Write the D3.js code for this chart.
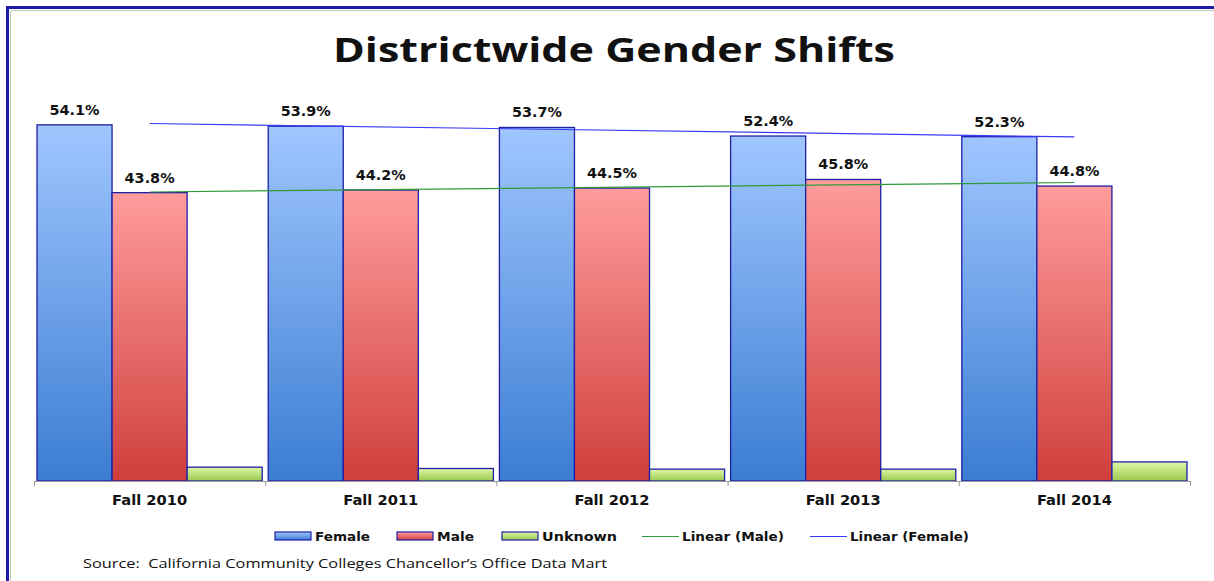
<!DOCTYPE html>
<html>
<head>
<meta charset="utf-8">
<script src="https://cdn.jsdelivr.net/npm/d3@7"></script>
<style>
  body { margin: 0; background: #fff; }
  text { font-family: "DejaVu Sans", Verdana, sans-serif; fill: #111; }
</style>
</head>
<body>
<svg id="chart" width="1214" height="581"></svg>
<script>
// values
const terms = ['Fall 2010', 'Fall 2011', 'Fall 2012', 'Fall 2013', 'Fall 2014'];
const female = [54.1, 53.9, 53.7, 52.4, 52.3];
const male = [43.8, 44.2, 44.5, 45.8, 44.8];
const unknown = [2.1, 1.9, 1.8, 1.8, 2.9];
const seriesNames = ['Female', 'Male', 'Unknown'];

const svg = d3.select('#chart');

// frame
svg.append('path')
    .attr('d', 'M7.5,581V7.5H1214')
    .attr('fill', 'none')
    .attr('stroke', '#1a1aa6')
    .attr('stroke-width', 3);
svg.append('path')
    .attr('d', 'M10.5,581V10.5H1214')
    .attr('fill', 'none')
    .attr('stroke', '#c4c4c4')
    .attr('stroke-width', 1);

// gradients
const defs = svg.append('defs');
const grads = {
    Female: ['#a0c6ff', '#3b7dd2'],
    Male: ['#ff9c9c', '#cf3f3c'],
    Unknown: ['#dff7a6', '#9ac94f']
};
Object.keys(grads).forEach(k => {
    const g = defs.append('linearGradient')
        .attr('id', 'g-' + k)
        .attr('x1', 0).attr('y1', 0).attr('x2', 0).attr('y2', 1);
    g.append('stop').attr('offset', '0%').attr('stop-color', grads[k][0]);
    g.append('stop').attr('offset', '100%').attr('stop-color', grads[k][1]);
});

const x = d3.scaleBand().domain(terms).range([34, 1190]);
const xs = d3.scaleBand().domain(seriesNames).range([0, x.bandwidth()]).paddingOuter(0.04);
const y = d3.scaleLinear().domain([0, 60]).range([481, 86]);

const rows = terms.map((t, i) => ({ term: t, Female: female[i], Male: male[i], Unknown: unknown[i] }));

// bars
const groups = svg.append('g').selectAll('g')
    .data(rows)
    .enter().append('g')
    .attr('transform', d => 'translate(' + x(d.term) + ',0)');

groups.selectAll('rect')
    .data(d => seriesNames.map(s => ({ key: s, value: d[s] })))
    .enter().append('rect')
    .attr('x', d => xs(d.key))
    .attr('y', d => y(d.value))
    .attr('width', xs.bandwidth())
    .attr('height', d => y(0) - y(d.value))
    .attr('fill', d => 'url(#g-' + d.key + ')')
    .attr('stroke', '#1f1fa8')
    .attr('stroke-width', 1.3);

// value labels for female and male
groups.selectAll('text.val')
    .data(d => ['Female', 'Male'].map(s => ({ key: s, value: d[s] })))
    .enter().append('text')
    .attr('class', 'val')
    .attr('x', d => xs(d.key) + xs.bandwidth() / 2)
    .attr('y', d => y(d.value) - 10)
    .attr('text-anchor', 'middle')
    .attr('font-size', 14)
    .attr('font-weight', 'bold')
    .attr('textLength', 50)
    .attr('lengthAdjust', 'spacingAndGlyphs')
    .text(d => d.value.toFixed(1) + '%');

// axis
const axis = svg.append('g');
axis.append('line')
    .attr('x1', 34).attr('x2', 1190)
    .attr('y1', y(0) + 0.5).attr('y2', y(0) + 0.5)
    .attr('stroke', '#9a9a9a');
axis.selectAll('line.tick')
    .data(terms.concat(['end']))
    .enter().append('line')
    .attr('class', 'tick')
    .attr('x1', (d, i) => 34.5 + i * x.step())
    .attr('x2', (d, i) => 34.5 + i * x.step())
    .attr('y1', y(0)).attr('y2', y(0) + 5)
    .attr('stroke', '#9a9a9a');
axis.selectAll('text')
    .data(terms)
    .enter().append('text')
    .attr('x', d => x(d) + x.bandwidth() / 2)
    .attr('y', 505)
    .attr('text-anchor', 'middle')
    .attr('font-size', 14)
    .attr('font-weight', 'bold')
    .attr('textLength', 75)
    .attr('lengthAdjust', 'spacingAndGlyphs')
    .text(d => d);

// linear trendlines
function fit(vals) {
    const n = vals.length;
    const mx = (n + 1) / 2;
    const my = d3.mean(vals);
    let sxy = 0, sxx = 0;
    vals.forEach((v, i) => { sxy += (i + 1 - mx) * (v - my); sxx += (i + 1 - mx) * (i + 1 - mx); });
    const b = sxy / sxx;
    return k => my + b * (k - mx);
}
const cx0 = x(terms[0]) + x.bandwidth() / 2;
const cx1 = x(terms[terms.length - 1]) + x.bandwidth() / 2;
[[male, '#2f9a3a'], [female, '#3a3af5']].forEach(([vals, col]) => {
    const f = fit(vals);
    svg.append('line')
        .attr('x1', cx0).attr('y1', y(f(1)))
        .attr('x2', cx1).attr('y2', y(f(vals.length)))
        .attr('stroke', col)
        .attr('stroke-width', 1.2);
});

// title
svg.append('text')
    .attr('x', 614)
    .attr('y', 62)
    .attr('text-anchor', 'middle')
    .attr('font-size', 34)
    .attr('font-weight', 'bold')
    .attr('textLength', 562)
    .attr('lengthAdjust', 'spacingAndGlyphs')
    .style('font-family', '"Open Sans", sans-serif')
    .text('Districtwide Gender Shifts');

// legend
const legend = svg.append('g');
const legendItems = [
    { name: 'Female', type: 'box', x: 275, w: 55 },
    { name: 'Male', type: 'box', x: 397, w: 37 },
    { name: 'Unknown', type: 'box', x: 502, w: 75 },
    { name: 'Linear (Male)', type: 'line', x: 642, w: 102, color: '#2f9a3a' },
    { name: 'Linear (Female)', type: 'line', x: 810, w: 119, color: '#3a3af5' }
];
legendItems.forEach(d => {
    if (d.type === 'box') {
        legend.append('rect')
            .attr('x', d.x).attr('y', 532)
            .attr('width', 36).attr('height', 8)
            .attr('fill', 'url(#g-' + d.name + ')')
            .attr('stroke', '#1f1fa8')
            .attr('stroke-width', 1.2);
    } else {
        legend.append('line')
            .attr('x1', d.x).attr('x2', d.x + 37)
            .attr('y1', 536.5).attr('y2', 536.5)
            .attr('stroke', d.color)
            .attr('stroke-width', 1.2);
    }
    legend.append('text')
        .attr('x', d.x + 40)
        .attr('y', 541)
        .attr('font-size', 13)
        .attr('font-weight', 'bold')
        .attr('textLength', d.w)
        .attr('lengthAdjust', 'spacingAndGlyphs')
        .text(d.name);
});

// source
svg.append('text')
    .attr('x', 83)
    .attr('y', 568)
    .attr('font-size', 13)
    .attr('xml:space', 'preserve')
    .attr('textLength', 524)
    .attr('lengthAdjust', 'spacingAndGlyphs')
    .style('white-space', 'pre')
    .style('font-family', '"Open Sans", sans-serif')
    .text('Source:  California Community Colleges Chancellor\u2019s Office Data Mart');
</script>
</body>
</html>
